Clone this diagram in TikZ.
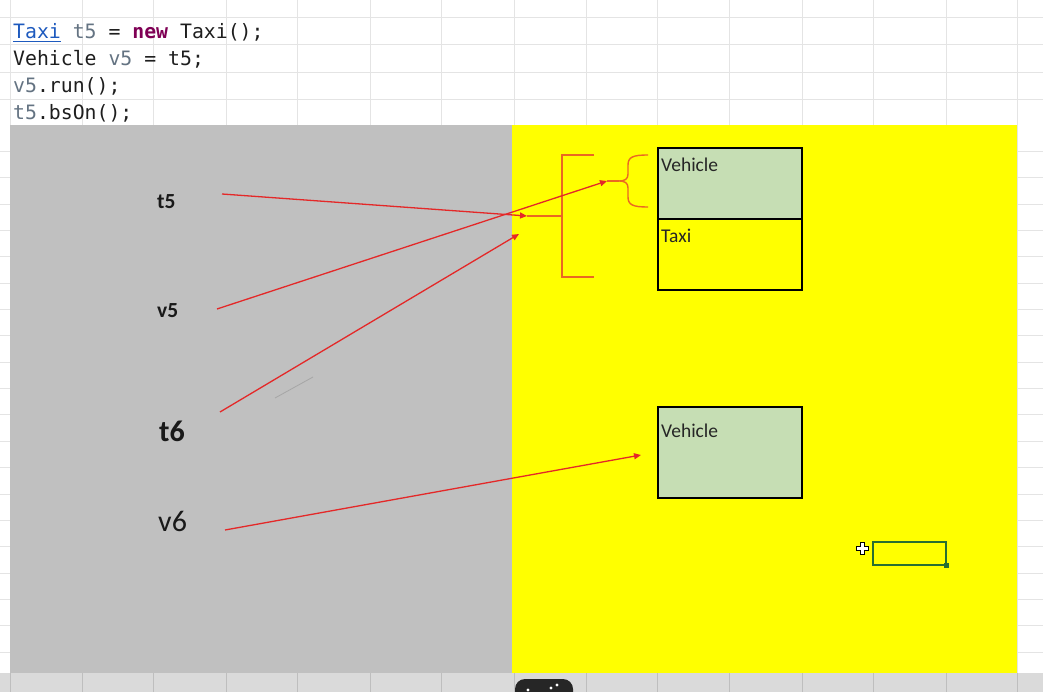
\documentclass[tikz,border=0pt]{standalone}
\usepackage{fontspec}
\usetikzlibrary{arrows.meta,calc}
\newfontfamily\codefont{DejaVu Sans Mono}
\newfontfamily\labfont{Carlito}
\definecolor{sheetgray}{RGB}{192,192,192}
\definecolor{sheetyellow}{RGB}{255,255,0}
\definecolor{gridline}{RGB}{228,228,228}
\definecolor{boxgreen}{RGB}{198,222,180}
\definecolor{arrowred}{RGB}{228,40,40}
\definecolor{braceorange}{RGB}{234,104,34}
\definecolor{codeblue}{RGB}{30,90,190}
\definecolor{codevar}{RGB}{100,115,130}
\definecolor{codekw}{RGB}{127,0,85}
\definecolor{codetext}{RGB}{30,30,30}
\definecolor{cellgreen}{RGB}{40,110,50}
\definecolor{stripgray}{RGB}{218,218,218}
\definecolor{stripline}{RGB}{190,190,190}
\begin{document}
\begin{tikzpicture}[x=1pt,y=-1pt,
  code/.style={inner sep=0pt, anchor=base west, text=codetext, font=\codefont\fontsize{19.8}{24}\selectfont},
  lab/.style={inner sep=0pt, anchor=base west, text=black!90},
  objbox/.style={draw=black, line width=1.6pt, minimum width=144pt, inner sep=0pt, anchor=north west},
  boxtext/.style={inner sep=0pt, anchor=base west, text=black!85, font=\labfont\fontsize{19.5}{22}\selectfont},
  ref/.style={draw=arrowred, line width=1.3pt, -{Triangle[length=7pt,width=6pt]}},
  orangeline/.style={draw=braceorange, line width=1.4pt}]
\useasboundingbox (0,0) rectangle (1043,692);
\fill[white] (0,0) rectangle (1043,692);
% spreadsheet grid
\foreach \x in {10,82,153,226,297,370,441,514,586,657,729,802,873,946,1017}
  \draw[gridline, line width=0.8pt] (\x,0) -- (\x,692);
\foreach \y in {17,44,72,99}
  \draw[gridline, line width=0.8pt] (0,\y) -- (1043,\y);
\foreach \k in {1,...,20}
  \draw[gridline, line width=0.8pt] (0,125+26.35*\k) -- (1043,125+26.35*\k);
% bottom strip
\fill[stripgray] (0,673) rectangle (1043,692);
\foreach \x in {10,82,153,226,297,370,441,514,586,657,729,802,873,946,1017}
  \draw[stripline, line width=0.8pt] (\x,673) -- (\x,692);
% panels
\fill[sheetgray] (10,125) rectangle (512,673);
\fill[sheetyellow] (512,125) rectangle (1017,673);
% code
\node[code] (c1) at (13,39) {\textcolor{codeblue}{Taxi} \textcolor{codevar}{t5} = \textcolor{codekw}{\bfseries new} Taxi();};
\draw[codeblue, line width=1pt] ($(c1.base west)+(0,3)$) -- ++(47.7,0);
\node[code] (c2) at (13,66) {Vehicle \textcolor{codevar}{v5} = t5;};
\node[code] (c3) at (13,93) {\textcolor{codevar}{v5}.run();};
\node[code] (c4) at (13,120) {\textcolor{codevar}{t5}.bsOn();};
% variable labels
\node[lab, font=\labfont\bfseries\fontsize{21.5}{24}\selectfont] (t5) at (157,209) {t5};
\node[lab, font=\labfont\bfseries\fontsize{21.5}{24}\selectfont] (v5) at (157,317) {v5};
\node[lab, font=\labfont\bfseries\fontsize{30}{34}\selectfont] (t6) at (159,441) {t6};
\node[lab, font=\labfont\fontsize{30}{34}\selectfont] (v6) at (158,531) {v6};
% objects
\node[objbox, fill=boxgreen, minimum height=71pt] (veh1) at (657,147) {};
\node[objbox, minimum height=71pt] (taxi) at (657,218) {};
\node[objbox, fill=boxgreen, minimum height=91pt] (veh2) at (657,406) {};
\node[boxtext] (veh1t) at ($(veh1.north west)+(4,25)$) {Vehicle};
\node[boxtext] (taxit) at ($(taxi.north west)+(4,25)$) {Taxi};
\node[boxtext] (veh2t) at ($(veh2.north west)+(4,31)$) {Vehicle};
% bracket and brace
\draw[orangeline] (594,155) -- (562,155) -- (562,277) -- (594,277);
\coordinate (brmid) at (562,216);
\coordinate (t5e) at (527,216);
\draw[orangeline] (brmid) -- (t5e);
\draw[orangeline] (648,155) .. controls (633,155) and (628,157) .. (628,165) -- (628,174)
  .. controls (628,179) and (625,181) .. (619,181)
  .. controls (625,181) and (628,183) .. (628,188) -- (628,197)
  .. controls (628,205) and (633,207) .. (648,207);
\coordinate (bracetip) at (619,181);
\coordinate (v5e) at (607,181);
\draw[orangeline] (v5e) -- (bracetip);
% references
\coordinate (t5s) at (222,194);
\coordinate (v5s) at (217,309);
\coordinate (t6s) at (220,412);
\coordinate (t6e) at (519,234);
\coordinate (v6s) at (225,530);
\coordinate (v6e) at (641,455);
\draw[ref] (t5s) -- (t5e);
\draw[ref] (v5s) -- (v5e);
\draw[ref] (t6s) -- (t6e);
\draw[ref] (v6s) -- (v6e);
% faint stroke
\draw[black!35, line width=0.8pt] (275,398) -- (313,377);
% selected cell and cursor
\draw[cellgreen, line width=1.5pt] (873,542) rectangle (946,565);
\fill[cellgreen] (943.5,562.5) rectangle (948.5,567.5);
\filldraw[fill=white, draw=black, line width=0.9pt]
  (860,542) -- (864,542) -- (864,546) -- (868,546) -- (868,550) -- (864,550)
  -- (864,554) -- (860,554) -- (860,550) -- (856,550) -- (856,546) -- (860,546) -- cycle;
% player overlay
\fill[black!85, rounded corners=10pt] (515,679) rectangle (573,712);
\fill[white] (528,690) circle (1.6);
\fill[white] (551,688) circle (1.6);
\fill[white] (557,685) circle (1.6);
\end{tikzpicture}
\end{document}
